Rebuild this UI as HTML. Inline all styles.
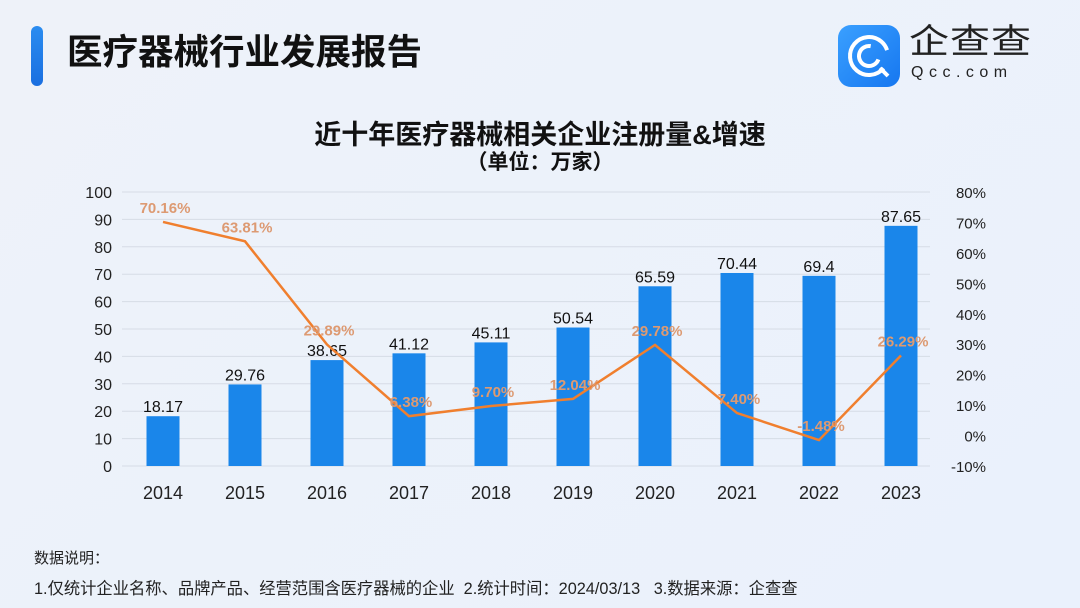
<!DOCTYPE html>
<html><head><meta charset="utf-8"><style>
body{margin:0;width:1080px;height:608px;overflow:hidden;background:linear-gradient(135deg,#eef2f9,#eaf1fc);font-family:"Liberation Sans","Noto Sans CJK SC",sans-serif;position:relative}
.abs{position:absolute}
</style></head><body>
<div class="abs" style="left:31px;top:26px;width:12px;height:60px;border-radius:6px;background:linear-gradient(#2a8cf0,#1a6fe0)"></div>
<div class="abs" style="left:67px;top:30px;font-size:35.5px;font-weight:bold;color:#111;line-height:44px">医疗器械行业发展报告</div>
<div class="abs" style="left:838px;top:25px;width:62px;height:62px;border-radius:13px;background:linear-gradient(135deg,#3aa0ff,#1677f0)">
<svg width="62" height="62"><circle cx="31" cy="31" r="19" fill="none" stroke="#fff" stroke-width="4" stroke-dasharray="100 20" transform="rotate(40 31 31)"/><circle cx="31" cy="31" r="10" fill="none" stroke="#fff" stroke-width="4" stroke-dasharray="45 18" transform="rotate(20 31 31)"/><line x1="42" y1="43" x2="50" y2="51" stroke="#fff" stroke-width="4"/></svg></div>
<div class="abs" style="left:909px;top:24px;font-size:40px;line-height:42px;color:#222;letter-spacing:1px;transform:scale(1,0.85);transform-origin:top left">企查查</div>
<div class="abs" style="left:911px;top:64px;font-size:16px;color:#222;letter-spacing:5.5px">Qcc.com</div>
<div class="abs" style="left:0;width:1080px;top:113px;text-align:center;font-size:27px;font-weight:bold;color:#111">近十年医疗器械相关企业注册量&amp;增速</div>
<div class="abs" style="left:0;width:1080px;top:146px;text-align:center;font-size:21px;font-weight:bold;color:#111">（单位：万家）</div>
<svg class="abs" style="left:0;top:0" width="1080" height="608" id="chart"></svg>
<div class="abs" style="left:34px;top:547px;font-size:15px;color:#222">数据说明：</div>
<div class="abs" style="left:34px;top:575px;font-size:16.3px;color:#222;white-space:pre">1.仅统计企业名称、品牌产品、经营范围含医疗器械的企业  2.统计时间：2024/03/13   3.数据来源：企查查</div>
<script>
const years=["2014","2015","2016","2017","2018","2019","2020","2021","2022","2023"];
const counts=[18.17,29.76,38.65,41.12,45.11,50.54,65.59,70.44,69.4,87.65];
const growth=[70.16,63.81,29.89,6.38,9.70,12.04,29.78,7.40,-1.48,26.29];
const leftTicks=[0,10,20,30,40,50,60,70,80,90,100];
const rightTicks=[-10,0,10,20,30,40,50,60,70,80];
const NS="http://www.w3.org/2000/svg",svg=document.getElementById('chart');
const y0=466,y1=192;
const yL=v=>y0-(v/100)*(y0-y1);
const yR=v=>y0-((v+10)/90)*(y0-y1);
const xC=i=>163+i*82;
function mk(t,a,txt){const e=document.createElementNS(NS,t);for(const k in a)e.setAttribute(k,a[k]);if(txt!==undefined)e.textContent=txt;svg.appendChild(e);return e;}
leftTicks.forEach(v=>{
 const g=mk('line',{x1:122,x2:930,y1:yL(v),y2:yL(v),stroke:'#d6dce6','stroke-width':1});
 
 
 const t=mk('text',{x:112,y:yL(v)+6,'text-anchor':'end','font-size':16,fill:'#222','font-family':'Liberation Sans'},v);
 
 
});
rightTicks.forEach(v=>{
 const t=mk('text',{x:986,y:yR(v)+6,'text-anchor':'end','font-size':15,fill:'#222','font-family':'Liberation Sans'},v+'%');
 
 
});
years.forEach((y,i)=>{
 const b=mk('rect',{x:xC(i)-16.5,y:yL(counts[i]),width:33,height:y0-yL(counts[i]),fill:'#1a86ea'});
 
 
 const l=mk('text',{x:xC(i),y:yL(counts[i])-4,'text-anchor':'middle','font-size':16,fill:'#111','font-family':'Liberation Sans'},counts[i]);
 
 
 const c=mk('text',{x:xC(i),y:499,'text-anchor':'middle','font-size':18,fill:'#222','font-family':'Liberation Sans'},y);
 
 
});
const line=mk('polyline',{points:growth.map((v,i)=>xC(i)+','+yR(v)).join(' '),fill:'none',stroke:'#f07f2e','stroke-width':2.5});


growth.forEach((v,i)=>{
 const t=mk('text',{x:xC(i)+2,y:yR(v)-9,'text-anchor':'middle','font-size':15,'font-weight':'bold',fill:'#dd9a72','font-family':'Liberation Sans'},v.toFixed(2)+'%');
 
 
});
</script>
</body></html>
